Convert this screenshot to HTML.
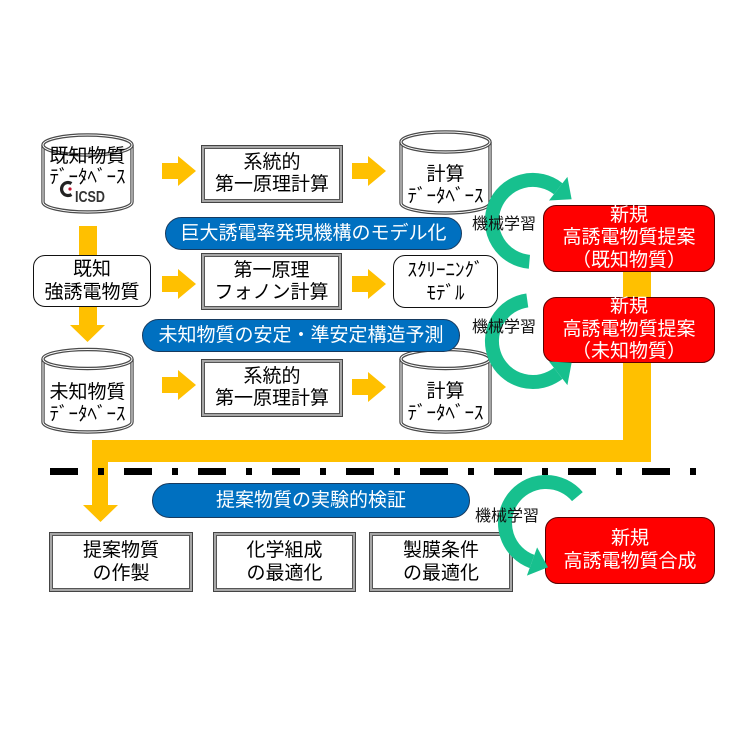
<!DOCTYPE html>
<html><head><meta charset="utf-8">
<style>
html,body{margin:0;padding:0;background:#fff;}
#c{position:relative;width:731px;height:731px;overflow:hidden;background:#fff;font-family:"Liberation Sans","Noto Sans CJK JP",sans-serif;color:#000;}
svg{position:absolute;left:0;top:0;}
.box{position:absolute;box-sizing:border-box;background:#fff;border:1px solid #444;box-shadow:inset 0 0 0 2px #a6a6a6, inset 0 0 0 3px #555;display:flex;align-items:center;justify-content:center;text-align:center;font-size:19px;line-height:22px;z-index:1;white-space:nowrap;}
.rbox{position:absolute;box-sizing:border-box;background:#fff;border:1.5px solid #111;border-radius:12px;display:flex;align-items:center;justify-content:center;text-align:center;font-size:19px;line-height:23px;z-index:1;white-space:nowrap;}
.pill{position:absolute;box-sizing:border-box;background:#0070c0;border:1.5px solid #173a5e;border-radius:18px;color:#fff;font-size:19px;line-height:22px;display:flex;align-items:center;justify-content:center;z-index:1;white-space:nowrap;}
.red{position:absolute;box-sizing:border-box;background:#ff0000;border:1.5px solid #5a0000;border-radius:13px;color:#fff;font-size:19px;line-height:22.5px;display:flex;align-items:center;justify-content:center;text-align:center;z-index:1;white-space:nowrap;}
.t{position:absolute;text-align:center;white-space:nowrap;font-size:19px;z-index:1;}
.ml{position:absolute;font-size:16px;line-height:20px;white-space:nowrap;z-index:3;color:#111;}
</style></head>
<body>
<div id="c">
<svg width="731" height="731" style="z-index:0">
  <!-- orange arrows -->
  <g fill="#ffc000">
    <polygon points="162,163 178,163 178,156 196,171 178,186 178,179 162,179"/>
    <polygon points="352,163 368,163 368,156 386,171 368,186 368,179 352,179"/>
    <polygon points="162,276 178,276 178,269 196,284 178,299 178,292 162,292"/>
    <polygon points="352,276 368,276 368,269 386,284 368,299 368,292 352,292"/>
    <polygon points="162,377 178,377 178,370 196,385 178,400 178,393 162,393"/>
    <polygon points="352,379 368,379 368,372 386,387 368,402 368,395 352,395"/>
    <!-- left down arrow -->
    <rect x="79" y="226" width="18" height="100"/>
    <polygon points="70,325 105,325 87.5,342"/>
    <!-- big return path -->
    <rect x="623" y="230" width="28" height="232"/>
    <rect x="92" y="440" width="559" height="22"/>
    <rect x="92" y="440" width="16" height="66"/>
    <polygon points="83,505 118,505 100.5,522"/>
  </g>
  <!-- dash-dot line -->
  <g fill="#000">
    <rect x="50" y="468" width="28" height="7"/><rect x="98" y="468" width="6" height="7"/>
    <rect x="124" y="468" width="28" height="7"/><rect x="172" y="468" width="6" height="7"/>
    <rect x="198" y="468" width="28" height="7"/><rect x="246" y="468" width="6" height="7"/>
    <rect x="272" y="468" width="28" height="7"/><rect x="320" y="468" width="6" height="7"/>
    <rect x="346" y="468" width="28" height="7"/><rect x="394" y="468" width="6" height="7"/>
    <rect x="420" y="468" width="28" height="7"/><rect x="468" y="468" width="6" height="7"/>
    <rect x="494" y="468" width="28" height="7"/><rect x="542" y="468" width="6" height="7"/>
    <rect x="568" y="468" width="28" height="7"/><rect x="616" y="468" width="6" height="7"/>
    <rect x="642" y="468" width="28" height="7"/><rect x="690" y="468" width="6" height="7"/>
  </g>
  <!-- cylinders -->
  <g fill="#fff">
    <g>
      <path d="M43,145 L43,202 A44.5,10 0 0 0 132,202 L132,145" stroke="#4a4a4a" stroke-width="3.4"/>
      <path d="M43,145 L43,202 A44.5,10 0 0 0 132,202 L132,145" stroke="#fff" stroke-width="1" fill="none"/>
      <ellipse cx="87.5" cy="145" rx="44.5" ry="10" stroke="#4a4a4a" stroke-width="3.4"/>
      <ellipse cx="87.5" cy="145" rx="44.5" ry="10" stroke="#fff" stroke-width="1" fill="none"/>
    </g>
    <g>
      <path d="M401,142 L401,203 A44.5,10 0 0 0 490,203 L490,142" stroke="#4a4a4a" stroke-width="3.4"/>
      <path d="M401,142 L401,203 A44.5,10 0 0 0 490,203 L490,142" stroke="#fff" stroke-width="1" fill="none"/>
      <ellipse cx="445.5" cy="142" rx="44.5" ry="10" stroke="#4a4a4a" stroke-width="3.4"/>
      <ellipse cx="445.5" cy="142" rx="44.5" ry="10" stroke="#fff" stroke-width="1" fill="none"/>
    </g>
    <g>
      <path d="M43,359 L43,422 A44.5,10 0 0 0 132,422 L132,359" stroke="#4a4a4a" stroke-width="3.4"/>
      <path d="M43,359 L43,422 A44.5,10 0 0 0 132,422 L132,359" stroke="#fff" stroke-width="1" fill="none"/>
      <ellipse cx="87.5" cy="359" rx="44.5" ry="9.5" stroke="#4a4a4a" stroke-width="3.4"/>
      <ellipse cx="87.5" cy="359" rx="44.5" ry="9.5" stroke="#fff" stroke-width="1" fill="none"/>
    </g>
    <g>
      <path d="M401,359 L401,422 A44.5,10 0 0 0 490,422 L490,359" stroke="#4a4a4a" stroke-width="3.4"/>
      <path d="M401,359 L401,422 A44.5,10 0 0 0 490,422 L490,359" stroke="#fff" stroke-width="1" fill="none"/>
      <ellipse cx="445.5" cy="359" rx="44.5" ry="9.5" stroke="#4a4a4a" stroke-width="3.4"/>
      <ellipse cx="445.5" cy="359" rx="44.5" ry="9.5" stroke="#fff" stroke-width="1" fill="none"/>
    </g>
  </g>
  <!-- ICSD logo -->
  <path d="M71.5,183.5 A6.5,6.5 0 1 0 71.5,194.5" fill="none" stroke="#222" stroke-width="3.2"/>
  <circle cx="70" cy="189" r="1.6" fill="#c8102e"/>
  <text x="75" y="202" font-family="Liberation Sans, sans-serif" font-weight="bold" font-size="16" fill="#333" textLength="30" lengthAdjust="spacingAndGlyphs">ICSD</text>
</svg>

<!-- cylinder texts -->
<div class="t" style="left:43px;width:89px;top:146px;line-height:21px;">既知物質<br>ﾃﾞｰﾀﾍﾞｰｽ</div>
<div class="t" style="left:401px;width:89px;top:164px;line-height:22px;">計算<br>ﾃﾞｰﾀﾍﾞｰｽ</div>
<div class="t" style="left:43px;width:89px;top:382px;line-height:22px;">未知物質<br>ﾃﾞｰﾀﾍﾞｰｽ</div>
<div class="t" style="left:401px;width:89px;top:381px;line-height:22px;">計算<br>ﾃﾞｰﾀﾍﾞｰｽ</div>

<!-- rectangular boxes -->
<div class="box" style="left:201px;top:145px;width:142px;height:58px;">系統的<br>第一原理計算</div>
<div class="box" style="left:201px;top:253px;width:141px;height:57px;">第一原理<br>フォノン計算</div>
<div class="box" style="left:201px;top:359px;width:142px;height:58px;">系統的<br>第一原理計算</div>
<div class="box" style="left:49px;top:532px;width:144px;height:60px;line-height:23px;">提案物質<br>の作製</div>
<div class="box" style="left:213px;top:532px;width:143px;height:60px;line-height:23px;">化学組成<br>の最適化</div>
<div class="box" style="left:369px;top:532px;width:144px;height:60px;line-height:23px;">製膜条件<br>の最適化</div>

<!-- rounded boxes -->
<div class="rbox" style="left:33px;top:255px;width:118px;height:52px;">既知<br>強誘電物質</div>
<div class="rbox" style="left:393px;top:255px;width:105px;height:53px;">ｽｸﾘｰﾆﾝｸﾞ<br>ﾓﾃﾞﾙ</div>

<!-- blue pills -->
<div class="pill" style="left:165px;top:217px;width:297px;height:33px;">巨大誘電率発現機構のモデル化</div>
<div class="pill" style="left:142px;top:319px;width:318px;height:33px;">未知物質の安定・準安定構造予測</div>
<div class="pill" style="left:152px;top:483px;width:318px;height:35px;">提案物質の実験的検証</div>

<!-- red boxes -->
<div class="red" style="left:543px;top:205px;width:172px;height:67px;">新規<br>高誘電物質提案<br>（既知物質）</div>
<div class="red" style="left:543px;top:297px;width:172px;height:66px;">新規<br>高誘電物質提案<br>（未知物質）</div>
<div class="red" style="left:545px;top:517px;width:170px;height:67px;">新規<br>高誘電物質合成</div>

<!-- green circular arrows -->
<svg width="731" height="731" style="z-index:2">
  <g fill="none" stroke="#17c08e" stroke-width="14">
    <path d="M529.4,261.8 A41,41 0 1 1 558.2,188.7"/>
    <path d="M527.3,300.4 A41,41 0 1 0 558.2,373.3"/>
    <path d="M577.4,496.6 A41,41 0 1 0 532.0,561.5"/>
  </g>
  <g fill="#17c08e">
    <polygon points="567.4,176.9 571.6,199.2 549.0,200.5"/>
    <polygon points="567.4,385.1 571.6,362.8 549.0,361.5"/>
    <polygon points="526.9,575.6 548.0,567.3 537.1,547.4"/>
  </g>
</svg>

<div class="ml" style="left:472px;top:215px;">機械学習</div>
<div class="ml" style="left:472px;top:318px;">機械学習</div>
<div class="ml" style="left:475px;top:507px;">機械学習</div>
</div>
</body></html>
